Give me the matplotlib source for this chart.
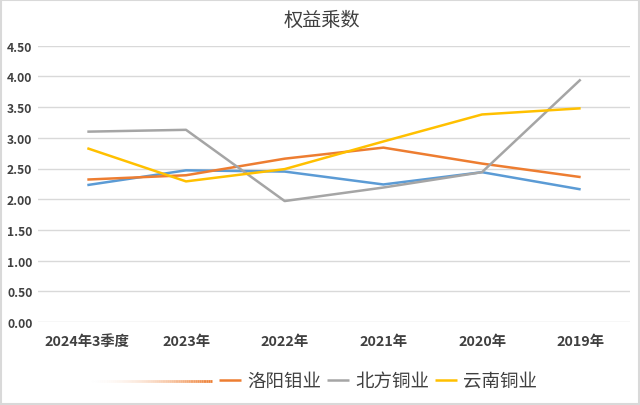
import matplotlib
matplotlib.use("Agg")
import matplotlib.pyplot as plt
from matplotlib.collections import LineCollection
from matplotlib.patches import Rectangle
import numpy as np

plt.rcParams['font.family'] = ['Noto Sans CJK SC', 'DejaVu Sans']

categories = ["2024年3季度", "2023年", "2022年", "2021年", "2020年", "2019年"]
luoyang = [2.32, 2.39, 2.66, 2.84, 2.58, 2.36]
beifang = [3.10, 3.13, 1.97, 2.19, 2.44, 3.95]
yunnan = [2.83, 2.29, 2.49, 2.94, 3.38, 3.48]
other = [2.23, 2.47, 2.45, 2.24, 2.44, 2.16]
yticks = [0.0, 0.5, 1.0, 1.5, 2.0, 2.5, 3.0, 3.5, 4.0, 4.5]

c_orange = "#ED7D31"
c_gray = "#A5A5A5"
c_yellow = "#FFC000"
c_blue = "#5B9BD5"

fig = plt.figure(figsize=(6.4, 4.06), dpi=100)
ax = fig.add_axes([38/640, 1-323/406, (630-38)/640, (323-46.7)/406])

x = np.arange(len(categories))
lw = 1.8
ax.plot(x, other, color=c_blue, lw=lw, solid_capstyle='butt', zorder=3)
l1, = ax.plot(x, luoyang, color=c_orange, lw=lw, solid_capstyle='butt', zorder=3)
l2, = ax.plot(x, beifang, color=c_gray, lw=lw, solid_capstyle='butt', zorder=3)
l3, = ax.plot(x, yunnan, color=c_yellow, lw=lw, solid_capstyle='butt', zorder=3)

ax.set_xlim(-0.5, len(categories) - 0.5)
ax.set_ylim(0, 4.5)
ax.set_yticks(yticks)
ax.set_yticklabels([f"{v:.2f}" for v in yticks])
ax.set_xticks(x)
ax.set_xticklabels(categories)
ax.grid(axis='y', color='#D9D9D9', lw=1)
ax.set_axisbelow(True)
for s in ax.spines.values():
    s.set_visible(False)
ax.tick_params(length=0)
ax.tick_params(axis='y', pad=4)
ax.tick_params(axis='x', pad=9)
for lab in ax.get_yticklabels():
    lab.set_fontsize(8.7)
    lab.set_fontweight('bold')
    lab.set_color('#404040')
for lab in ax.get_xticklabels():
    lab.set_fontsize(10.3)
    lab.set_fontweight('bold')
    lab.set_color('#404040')

fig.text(322/640, 1-20/406, "权益乘数", ha='center', va='center', fontsize=13.8, color='#404040')

# legend
leg = fig.legend([l1, l2, l3], ["洛阳钼业", "北方铜业", "云南铜业"], loc='center',
                 bbox_to_anchor=(378/640, 1-382/406), ncol=3, frameon=False,
                 fontsize=13.3, handlelength=1.2, handletextpad=0.35, columnspacing=0.3,
                 labelcolor='#404040')

# faded legend artifact
xs = np.linspace(85, 212, 60)
segs = [[(xs[i]/640, 1-382/406), (xs[i+1]/640, 1-382/406)] for i in range(len(xs)-1)]
alphas = np.linspace(0, 1, len(segs)) ** 2
cols = [(0.929, 0.49, 0.192, a) for a in alphas]
lc = LineCollection(segs, colors=cols, linewidths=2, transform=fig.transFigure)
fig.add_artist(lc)

# outer border
fig.add_artist(Rectangle((0.002, 0.003), 0.996, 0.994, transform=fig.transFigure,
                         fill=False, edgecolor='#D9D9D9', lw=1.5))

fig.savefig("out.png", dpi=100)
